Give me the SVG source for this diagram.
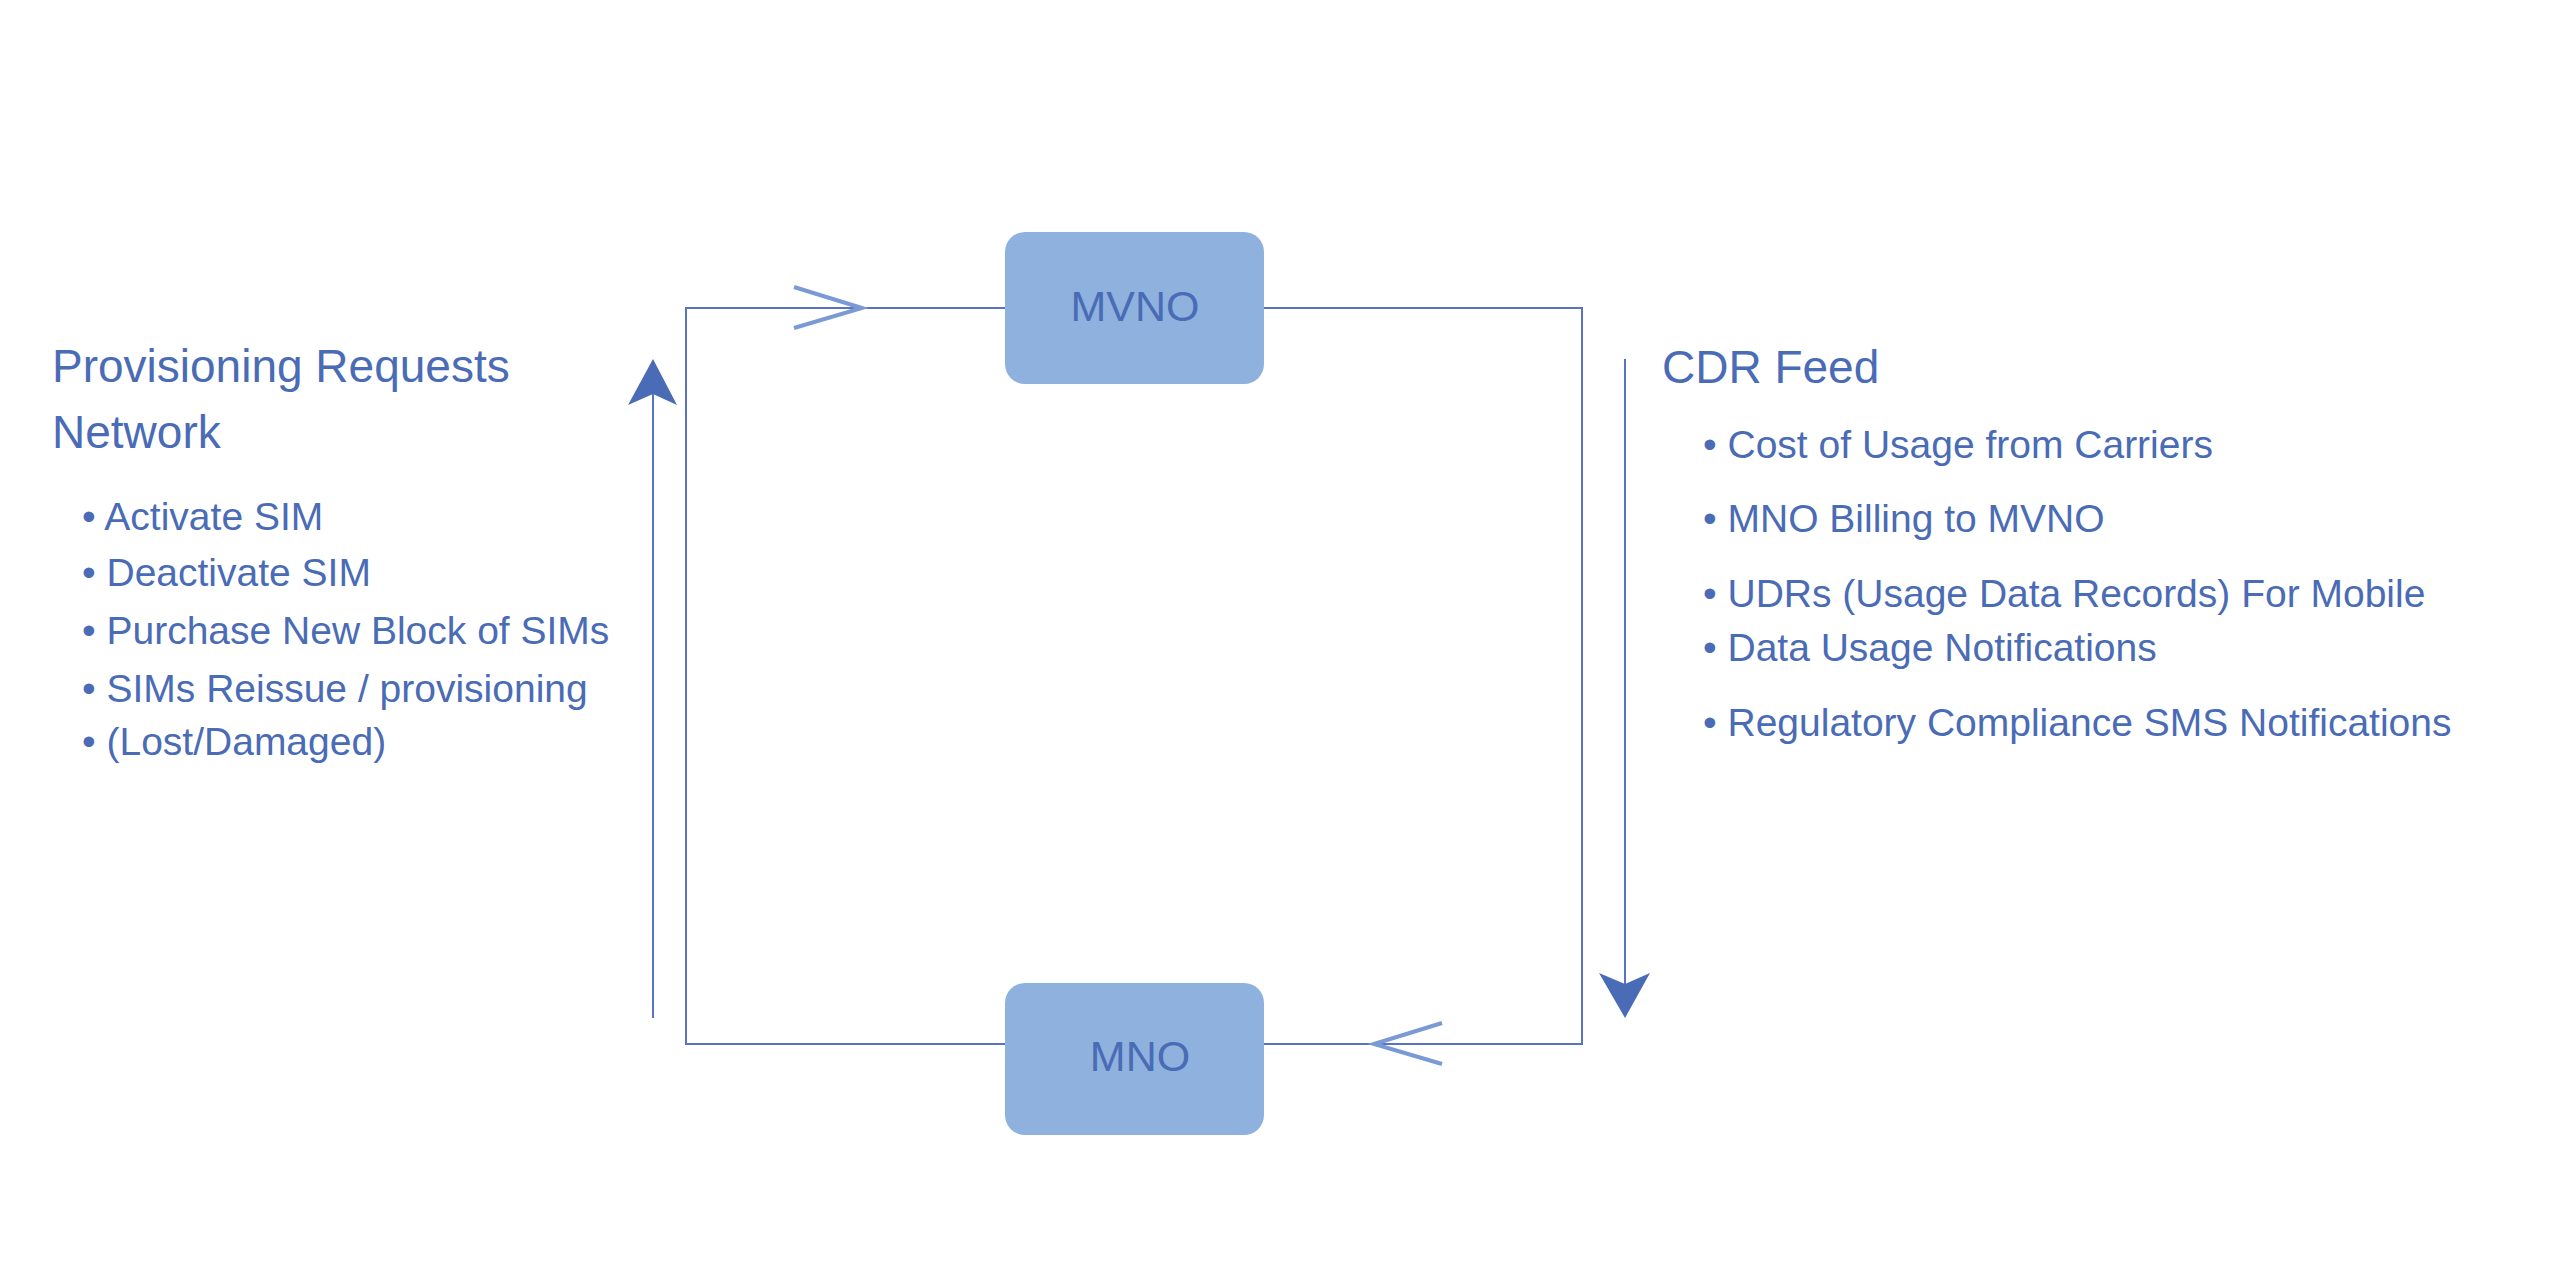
<svg xmlns="http://www.w3.org/2000/svg" width="2560" height="1281" viewBox="0 0 2560 1281">
<style>
text{font-family:"Liberation Sans",Arial,sans-serif;fill:#4a6bb5}
.t{font-size:46px}.b{font-size:39px}
.box{fill:#8eb1de}
.ln{fill:none;stroke:#5a73c0;stroke-width:2}
.oa{fill:none;stroke:#7a9ad6;stroke-width:4}
.fa{fill:#4a6bb5}
</style>
<rect width="2560" height="1281" fill="#fff"/>
<g id="connectors">
<path class="ln" d="M1005 308H686V1044H1005"/>
<path class="ln" d="M1264 308H1582V1044H1264"/>
<path class="oa" d="M794 287L862 308L794 328"/>
<path class="oa" d="M1442 1023L1374 1044L1442 1064"/>
<line class="ln" x1="653" y1="1018" x2="653" y2="390"/>
<path class="fa" d="M653 359L677 405L653 394L628 405Z"/>
<line class="ln" x1="1625" y1="359" x2="1625" y2="990"/>
<path class="fa" d="M1625 1018L1650 973L1625 984L1599 973Z"/>
</g>
<g id="mvno"><rect class="box" x="1005" y="232" width="259" height="152" rx="20"/><text x="1135" y="321" font-size="43" text-anchor="middle">MVNO</text></g>
<g id="mno"><rect class="box" x="1005" y="983" width="259" height="152" rx="20"/><text x="1140" y="1071" font-size="43" text-anchor="middle">MNO</text></g>
<g id="left-text">
<text class="t" x="52" y="382">Provisioning Requests</text>
<text class="t" x="52" y="448">Network</text>
<text class="b" x="82" y="530">• Activate SIM</text>
<text class="b" x="82" y="586">• Deactivate SIM</text>
<text class="b" x="82" y="644">• Purchase New Block of SIMs</text>
<text class="b" x="82" y="702">• SIMs Reissue / provisioning</text>
<text class="b" x="82" y="755">• (Lost/Damaged)</text>
</g>
<g id="right-text">
<text class="t" x="1662" y="383">CDR Feed</text>
<text class="b" x="1703" y="458">• Cost of Usage from Carriers</text>
<text class="b" x="1703" y="532">• MNO Billing to MVNO</text>
<text class="b" x="1703" y="607">• UDRs (Usage Data Records) For Mobile</text>
<text class="b" x="1703" y="661">• Data Usage Notifications</text>
<text class="b" x="1703" y="736">• Regulatory Compliance SMS Notifications</text>
</g>
</svg>
